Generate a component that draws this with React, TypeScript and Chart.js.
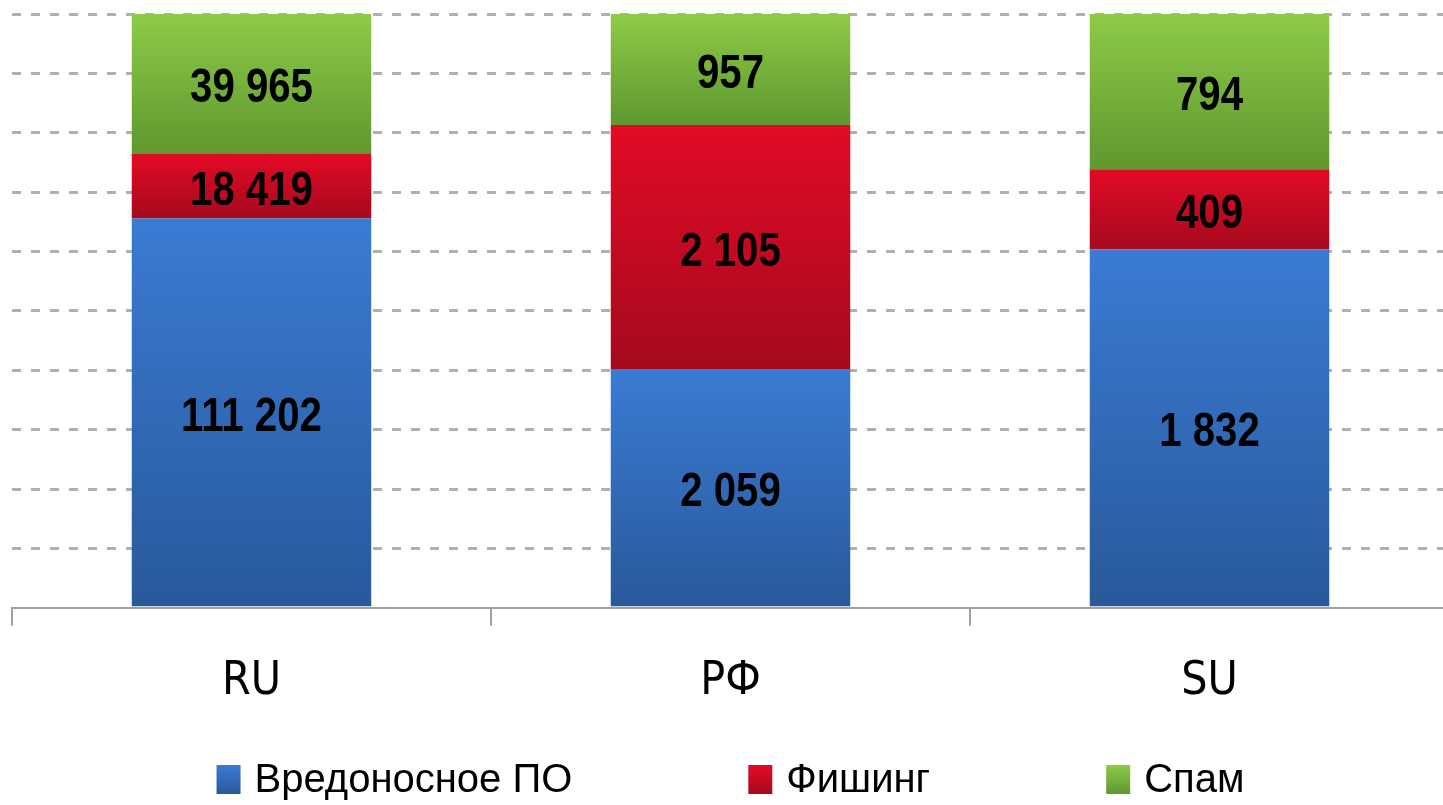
import { useEffect, useRef } from "react";
import { Chart, registerables } from "chart.js";

Chart.register(...registerables);

const categories = ["RU", "РФ", "SU"];
const seriesNames = ["Вредоносное ПО", "Фишинг", "Спам"];
const malware = [111202, 2059, 1832];
const phishing = [18419, 2105, 409];
const spam = [39965, 957, 794];

const seriesValues = [malware, phishing, spam];
const seriesTop = ["#3a7bd4", "#e30a26", "#8dcb47"];
const seriesBottom = ["#28599a", "#a40a1e", "#5f982f"];

const NARROW = '"Liberation Sans Narrow", "DejaVu Sans Condensed", sans-serif';
const REGULAR = '"Liberation Sans", Arial, sans-serif';

const totals = categories.map((_, i) => seriesValues.reduce((s, arr) => s + arr[i], 0));
const percents = seriesValues.map((arr) => arr.map((v, i) => (v / totals[i]) * 100));

function fmt(v: number) {
  return String(v).replace(/\B(?=(\d{3})+(?!\d))/g, " ");
}

function segGradient(d: number) {
  return (ctx: any) => {
    const chart = ctx.chart;
    const y = chart.scales && chart.scales.y;
    if (!chart.chartArea || !y || ctx.dataIndex === undefined) return seriesTop[d];
    const i = ctx.dataIndex;
    let bottom = 0;
    for (let k = 0; k < d; k++) bottom += percents[k][i];
    const top = bottom + percents[d][i];
    const y0 = y.getPixelForValue(top);
    const y1 = y.getPixelForValue(bottom);
    if (!isFinite(y0) || !isFinite(y1) || y0 === y1) return seriesTop[d];
    const g = chart.ctx.createLinearGradient(0, y0, 0, y1);
    g.addColorStop(0, seriesTop[d]);
    g.addColorStop(1, seriesBottom[d]);
    return g;
  };
}

const valueLabels = {
  id: "valueLabels",
  afterDatasetsDraw(chart: any) {
    const ctx = chart.ctx;
    chart.data.datasets.forEach((_: any, d: number) => {
      const meta = chart.getDatasetMeta(d);
      meta.data.forEach((el: any, i: number) => {
        const cy = (el.y + el.base) / 2;
        ctx.save();
        ctx.translate(el.x, cy + 5);
        ctx.scale(0.82, 1);
        ctx.font = `bold 49px ${REGULAR}`;
        ctx.fillStyle = "#000";
        ctx.textAlign = "center";
        ctx.textBaseline = "middle";
        ctx.fillText(fmt(seriesValues[d][i]), 0, 0);
        ctx.restore();
      });
    });
  },
};

const customLegend = {
  id: "customLegend",
  afterDraw(chart: any) {
    const ctx = chart.ctx;
    const area = chart.chartArea;
    const boxW = 24;
    const boxH = 29;
    const gap = 14;
    const itemGap = 176;
    const boxTop = 765;
    ctx.save();
    ctx.font = `40px ${REGULAR}`;
    const widths = seriesNames.map((n) => boxW + gap + ctx.measureText(n).width);
    const total = widths.reduce((a, b) => a + b, 0) + itemGap * (seriesNames.length - 1);
    let x = (area.left + area.right) / 2 - total / 2;
    seriesNames.forEach((name, d) => {
      const g = ctx.createLinearGradient(0, boxTop, 0, boxTop + boxH);
      g.addColorStop(0, seriesTop[d]);
      g.addColorStop(1, seriesBottom[d]);
      ctx.fillStyle = g;
      ctx.fillRect(x, boxTop, boxW, boxH);
      ctx.fillStyle = "#000";
      ctx.textAlign = "left";
      ctx.textBaseline = "middle";
      ctx.fillText(name, x + boxW + gap, boxTop + boxH / 2 + 1);
      x += widths[d] + itemGap;
    });
    ctx.restore();
  },
};

export default function App() {
  const ref = useRef<HTMLCanvasElement | null>(null);

  useEffect(() => {
    if (!ref.current) return;
    const chart = new Chart(ref.current, {
      type: "bar",
      data: {
        labels: categories,
        datasets: seriesNames.map((name, d) => ({
          label: name,
          data: percents[d],
          backgroundColor: segGradient(d),
          borderWidth: 0,
          barPercentage: 0.5,
          categoryPercentage: 1,
        })),
      },
      options: {
        responsive: false,
        animation: false,
        events: [],
        layout: { padding: { left: 12, top: 14, right: 0, bottom: 66 } },
        plugins: {
          legend: { display: false },
          tooltip: { enabled: false },
          title: { display: false },
        },
        scales: {
          x: {
            stacked: true,
            offset: true,
            grid: {
              display: true,
              offset: true,
              drawOnChartArea: false,
              drawTicks: true,
              tickLength: 18,
              color: "#a0a0a0",
              lineWidth: 2,
            },
            border: { display: true, color: "#a0a0a0", width: 2 },
            ticks: {
              color: "#000",
              font: { family: NARROW, size: 46 },
              padding: 29,
              maxRotation: 0,
              autoSkip: false,
            },
          },
          y: {
            stacked: true,
            min: 0,
            max: 100,
            ticks: { display: false, stepSize: 10 },
            grid: {
              drawTicks: false,
              lineWidth: 3,
              color: (c: any) => (c.tick && c.tick.value === 0 ? "rgba(0,0,0,0)" : "#b0b0b0"),
            },
            border: { display: false, dash: [9, 10] },
          },
        },
      },
      plugins: [valueLabels, customLegend],
    });
    return () => chart.destroy();
  }, []);

  return (
    <div
      style={{
        position: "absolute",
        left: 0,
        top: 0,
        width: 1443,
        height: 805,
        overflow: "hidden",
        background: "#fff",
      }}
    >
      <canvas ref={ref} width={1449} height={805} style={{ display: "block" }} />
    </div>
  );
}
